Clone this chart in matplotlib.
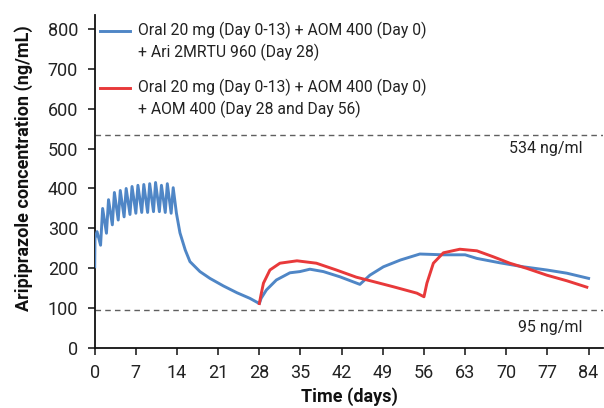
import matplotlib
matplotlib.use("Agg")
import matplotlib.pyplot as plt
from matplotlib.lines import Line2D

plt.rcParams['font.family'] = ['Roboto', 'DejaVu Sans']

# Blue: Oral 20 mg (Day 0-13) + AOM 400 (Day 0) + Ari 2MRTU 960 (Day 28)
blue_days = [0.0, 0.05, 0.4, 1.0, 1.35, 2.0, 2.35, 3.0, 3.35, 4.0, 4.35, 5.0, 5.35,
             6.0, 6.35, 7.0, 7.35, 8.0, 8.35, 9.0, 9.35, 10.0, 10.35, 11.0, 11.35,
             12.0, 12.35, 13.0, 13.35, 13.9, 14.5, 15.4, 16.2, 17.9, 19.6, 21.9,
             24.2, 26.4, 28.0, 28.3, 29.2, 30.9, 33.2, 34.9, 36.6, 38.9, 41.7,
             45.1, 46.8, 49.1, 52.0, 55.3, 59.3, 63.0, 65.0, 68.9, 72.9, 76.9,
             80.3, 84.0]
blue_conc = [204, 275, 292, 258, 350, 288, 372, 309, 390, 321, 395, 329, 400,
             335, 405, 338, 408, 340, 410, 340, 412, 342, 415, 342, 408,
             340, 412, 338, 402, 338, 289, 246, 217, 192, 175, 156,
             139, 125, 112, 125, 146, 171, 189, 192, 198, 192, 179,
             160, 183, 204, 221, 236, 234, 234, 225, 214, 204, 196,
             188, 175]

# Red: Oral 20 mg (Day 0-13) + AOM 400 (Day 0) + AOM 400 (Day 28 and Day 56)
red_days = [28.0, 28.3, 28.7, 29.8, 31.5, 34.4, 37.7, 41.1, 44.5, 47.4, 50.8,
            54.8, 56.0, 56.5, 57.6, 59.3, 62.1, 65.0, 67.8, 70.6, 73.5, 76.9,
            80.3, 83.7]
red_conc = [112, 135, 163, 196, 213, 219, 213, 196, 178, 167, 154,
            138, 129, 163, 213, 239, 248, 244, 229, 213, 200, 183,
            169, 153]

ref_levels = [534, 95]
ref_labels = ["534 ng/ml", "95 ng/ml"]
x_ticks = [0, 7, 14, 21, 28, 35, 42, 49, 56, 63, 70, 77, 84]
y_ticks = [0, 100, 200, 300, 400, 500, 600, 700, 800]
blue_label = "Oral 20 mg (Day 0-13) + AOM 400 (Day 0)\n+ Ari 2MRTU 960 (Day 28)"
red_label = "Oral 20 mg (Day 0-13) + AOM 400 (Day 0)\n+ AOM 400 (Day 28 and Day 56)"

BLUE = "#4F86C6"
RED = "#E8393A"

W, H = 604, 408
fig = plt.figure(figsize=(W / 100, H / 100), dpi=100)
ax = fig.add_axes([94.7 / W, 59.7 / H, 508.6 / W, 333.6 / H])

ax.plot(blue_days, blue_conc, color=BLUE, lw=2.1, solid_joinstyle='round', zorder=3)
ax.plot(red_days, red_conc, color=RED, lw=2.1, solid_joinstyle='round', zorder=4)

for lvl, lab, off in zip(ref_levels, ref_labels, [-33, -42]):
    ax.axhline(lvl, color="#5f5f5f", lw=1.0, ls=(0, (4, 3)), zorder=1)
    ax.text(83.0, lvl + off, lab, ha='right', va='center', fontsize=11.5, color="#222222")

ax.set_xlim(0, 86.5)
ax.set_ylim(0, 835)
ax.set_xticks(x_ticks)
ax.set_yticks(y_ticks)
ax.tick_params(axis='both', direction='out', length=5, width=1.2, labelsize=13,
               colors="#222222")
ax.tick_params(axis='y', pad=7)
ax.tick_params(axis='x', pad=6)
for s in ['top', 'right']:
    ax.spines[s].set_visible(False)
for s in ['left', 'bottom']:
    ax.spines[s].set_linewidth(1.3)
    ax.spines[s].set_color("#111111")

ax.set_xlabel("Time (days)", fontsize=13, fontweight='bold', labelpad=4, color="#111111")
ax.set_ylabel("Aripiprazole concentration (ng/mL)", fontsize=13, fontweight='bold',
              color="#111111")
ax.yaxis.set_label_coords(-0.1213, 0.54)

# Legend (manual placement)
def fy(px):
    return 1 - px / H

for color, label, y0, y1 in [(BLUE, blue_label, 31, 41.5), (RED, red_label, 88, 98.5)]:
    fig.add_artist(Line2D([100 / W, 130 / W], [fy(y0), fy(y0)], color=color, lw=2.1,
                          transform=fig.transFigure))
    fig.text(138 / W, fy(y1), label, ha='left', va='center', fontsize=11.3,
             color="#222222", linespacing=1.35)

fig.savefig("out.png", dpi=100)
